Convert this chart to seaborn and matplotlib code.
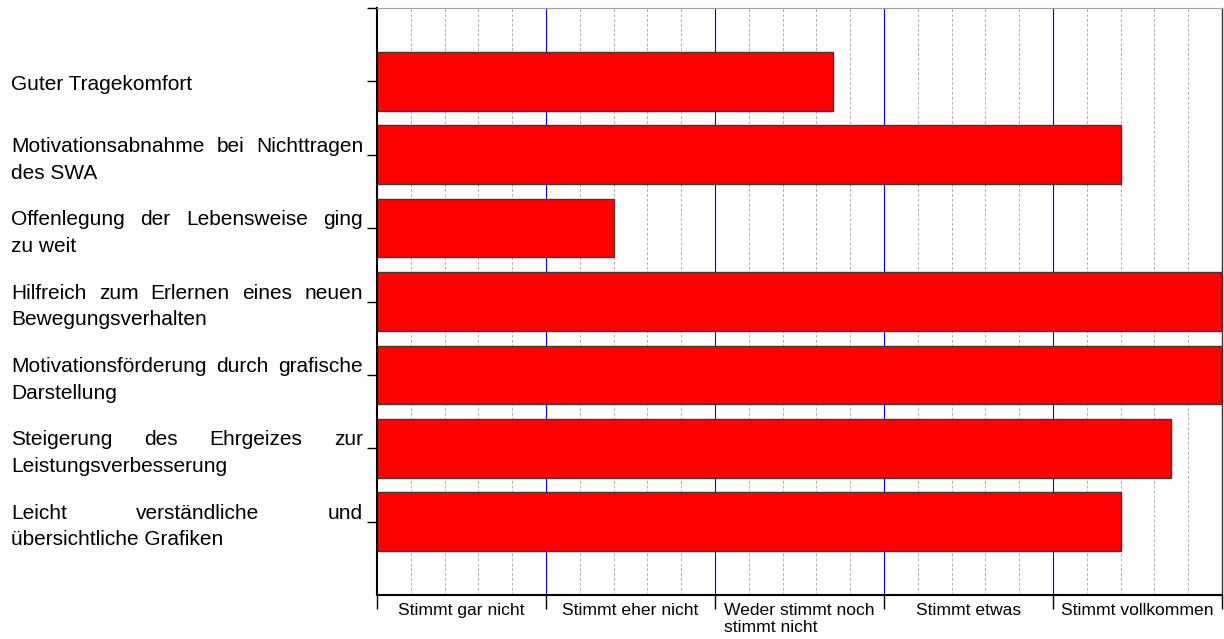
import numpy as np
import pandas as pd
import seaborn as sns
import matplotlib.pyplot as plt
import matplotlib.transforms as mtransforms

# Data
AUSSAGEN = [
    "Guter Tragekomfort",
    "Motivationsabnahme bei Nichttragen des SWA",
    "Offenlegung der Lebensweise ging zu weit",
    "Hilfreich zum Erlernen eines neuen Bewegungsverhalten",
    "Motivationsförderung durch grafische Darstellung",
    "Steigerung des Ehrgeizes zur Leistungsverbesserung",
    "Leicht verständliche und übersichtliche Grafiken",
]
# line breaks as in the original labels
LABEL_LINES = [
    ["Guter Tragekomfort"],
    ["Motivationsabnahme bei Nichttragen", "des SWA"],
    ["Offenlegung der Lebensweise ging", "zu weit"],
    ["Hilfreich zum Erlernen eines neuen", "Bewegungsverhalten"],
    ["Motivationsförderung durch grafische", "Darstellung"],
    ["Steigerung des Ehrgeizes zur", "Leistungsverbesserung"],
    ["Leicht verständliche und", "übersichtliche Grafiken"],
]
WERTE = [2.7, 4.4, 1.4, 5.0, 5.0, 4.7, 4.4]

SKALA = ["Stimmt gar nicht", "Stimmt eher nicht", "Weder stimmt noch\nstimmt nicht",
         "Stimmt etwas", "Stimmt vollkommen"]

df = pd.DataFrame({"aussage": AUSSAGEN, "wert": WERTE})

sns.set_theme(style="white")
plt.rcParams['font.family'] = ['Liberation Sans', 'DejaVu Sans']

W, H = 1224, 639
fig = plt.figure(figsize=(W / 100, H / 100), dpi=100)
ax = fig.add_axes([377 / W, 44 / H, 845 / W, 587 / H])

# grid: dashed gray every 0.2, blue at category borders
for x in np.arange(0.2, 5.0, 0.2):
    if abs(x - round(x)) < 1e-6:
        ax.axvline(x, color="#0000ff", lw=0.8, zorder=0)
    else:
        ax.axvline(x, color="#b0b0b0", lw=0.7, ls=(0, (3, 2)), zorder=0)

sns.barplot(data=df, x="wert", y="aussage", orient="h", color="#ff0000",
            saturation=1, edgecolor="#3a3a3a", linewidth=1.0, width=0.8,
            ax=ax, zorder=2)

ax.set_xlim(0, 5)
ax.set_ylim(7, -1)
ax.set_xlabel("")
ax.set_ylabel("")

# x axis: major ticks at borders, labels centered per category
ax.set_xticks(range(0, 6))
ax.set_xticklabels([])
ax.set_xticks(np.arange(0.5, 5, 1), minor=True)
ax.set_xticklabels(SKALA, minor=True, fontsize=12.6, multialignment="left", color="black")
ax.tick_params(axis="x", which="major", bottom=True, length=10, width=1, color="black")
ax.tick_params(axis="x", which="minor", bottom=True, length=0, pad=5.5, labelcolor="black")

# y axis ticks without labels (drawn manually below)
ax.set_yticks(range(-1, 7))
ax.set_yticklabels([])
ax.tick_params(axis="y", left=True, length=7, width=1, color="black")

for side in ["left", "bottom"]:
    ax.spines[side].set_color("black")
    ax.spines[side].set_linewidth(1.5)
ax.spines["top"].set_color("#a0a0a0")
ax.spines["top"].set_linewidth(0.8)
ax.spines["right"].set_color("#333333")
ax.spines["right"].set_linewidth(1.0)

# justified y labels
fig.canvas.draw()
renderer = fig.canvas.get_renderer()
ident = mtransforms.IdentityTransform()
x_left, x_right = 11, 363
fs = 15
line_gap = 26.7
cap_half = 7.5


def text_width(s):
    t = fig.text(0, 0, s, fontsize=fs, transform=ident)
    w = t.get_window_extent(renderer).width
    t.remove()
    return w


for i, lines in enumerate(LABEL_LINES):
    yc = ax.transData.transform((0, i))[1]
    n = len(lines)
    shift = -1 if n == 1 else -3
    for k, line in enumerate(lines):
        y_line = yc + ((n - 1) / 2 - k) * line_gap + shift
        baseline = y_line - cap_half
        words = line.split()
        if k == n - 1 or n == 1 or len(words) == 1:
            fig.text(x_left, baseline, line, fontsize=fs, transform=ident,
                     ha="left", va="baseline", color="black")
            continue
        widths = [text_width(w) for w in words]
        gap = (x_right - x_left - sum(widths)) / (len(words) - 1)
        x = x_left
        for w, wd in zip(words, widths):
            fig.text(x, baseline, w, fontsize=fs, transform=ident,
                     ha="left", va="baseline", color="black")
            x += wd + gap

fig.savefig("out.png", dpi=100)
